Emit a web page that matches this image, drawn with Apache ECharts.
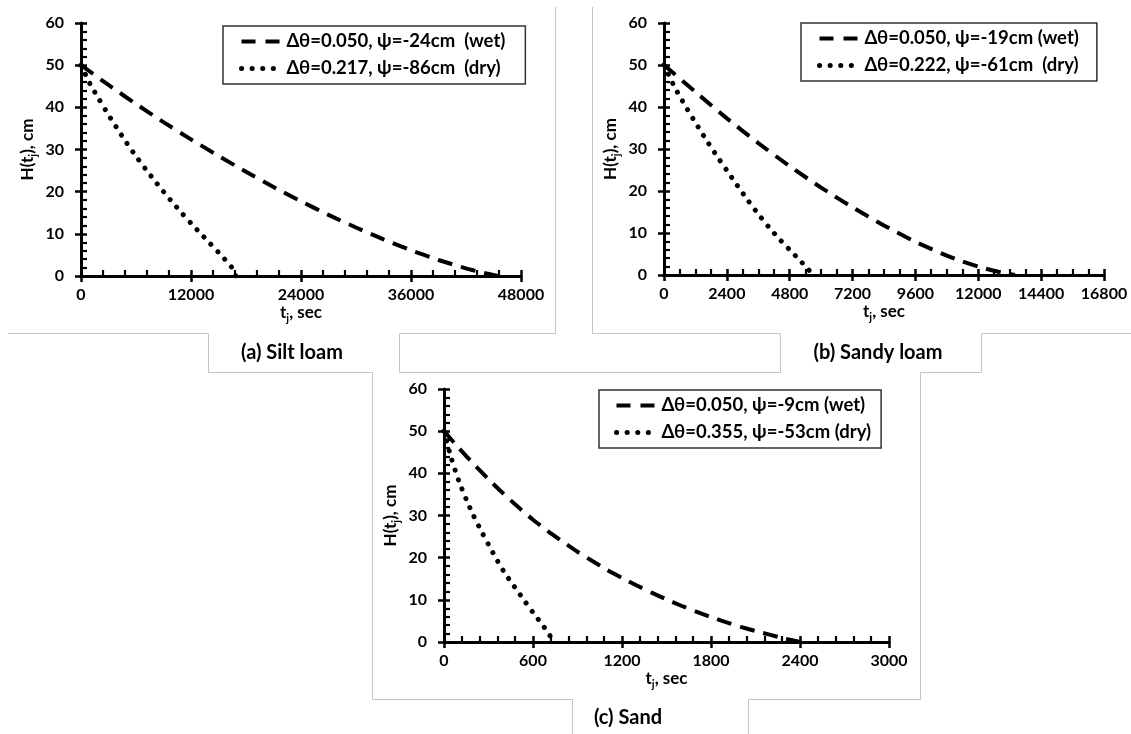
<!DOCTYPE html>
<html><head><meta charset="utf-8">
<script src="https://cdn.jsdelivr.net/npm/echarts@6/dist/echarts.min.js"></script>
<style>html,body{margin:0;padding:0;background:#fff}#c{width:1131px;height:734px}</style>
</head><body><div id="c"></div>
<script>
// ---------------- data ----------------
// (a) Silt loam
const tA_wet = [0, 3000, 6000, 9000, 12000, 15000, 18000, 21000, 24000, 27000, 30000, 33000, 36000, 39000, 42000, 44000, 45500];
const hA_wet = [50, 45.3, 40.8, 36.5, 32.4, 28.5, 24.7, 21.1, 17.7, 14.5, 11.5, 8.7, 6.1, 3.8, 1.8, 0.7, 0];
const tA_dry = [0, 1000, 2000, 3000, 4000, 5000, 6000, 7000, 8000, 9000, 10000, 11000, 12000, 13000, 14000, 15000, 16000, 16600, 16900];
const hA_dry = [50, 45.5, 41.8, 38.2, 34.8, 31.5, 28.4, 25.5, 22.7, 20.0, 17.4, 14.9, 12.5, 10.2, 7.9, 5.6, 3.2, 1.6, 0];
// (b) Sandy loam
const tB_wet = [0, 1200, 2400, 3600, 4800, 6000, 7200, 8400, 9600, 10800, 11400, 12000, 12600, 13000, 13400];
const hB_wet = [50, 43.6, 37.3, 31.4, 25.9, 20.8, 16.1, 11.8, 7.9, 4.6, 3.2, 2.0, 1.0, 0.5, 0];
const tB_dry = [0, 400, 800, 1200, 1600, 2000, 2400, 2800, 3200, 3600, 4000, 4400, 4800, 5200, 5500, 5700];
const hB_dry = [50, 44.8, 40.4, 36.3, 32.3, 28.5, 24.9, 21.3, 17.8, 14.5, 11.4, 8.6, 6.0, 3.4, 1.4, 0];
// (c) Sand
const tC_wet = [0, 100, 200, 300, 400, 500, 600, 700, 800, 900, 1000, 1100, 1200, 1300, 1400, 1500, 1600, 1700, 1800, 1900, 2000, 2100, 2200, 2300, 2400];
const hC_wet = [50, 46.0, 42.2, 38.6, 35.2, 32.0, 29.0, 26.3, 23.8, 21.4, 19.2, 17.1, 15.2, 13.4, 11.7, 10.1, 8.6, 7.2, 5.9, 4.7, 3.6, 2.6, 1.7, 0.8, 0];
const tC_dry = [0, 50, 100, 150, 200, 250, 300, 350, 400, 450, 500, 550, 600, 650, 700, 740];
const hC_dry = [50, 43.5, 38.2, 33.8, 29.9, 26.4, 23.1, 19.9, 16.9, 14.3, 11.9, 9.4, 7.0, 4.7, 2.3, 0];

const legendA = ['Δθ=0.050, ψ=-24cm  (wet)', 'Δθ=0.217, ψ=-86cm  (dry)'];
const legendB = ['Δθ=0.050, ψ=-19cm (wet)', 'Δθ=0.222, ψ=-61cm  (dry)'];
const legendC = ['Δθ=0.050, ψ=-9cm (wet)', 'Δθ=0.355, ψ=-53cm (dry)'];
const captions = ['(a) Silt loam', '(b) Sandy loam', '(c) Sand'];
const xMaxes = [48000, 16800, 3000];
const xSteps = [12000, 2400, 600];
const xMinorSplits = [5, 4, 5];
const yMax = 60, yStep = 10;

// ---------------- layout ----------------
const FONT = 'Lato';
const grids = [
  {left: 81, top: 23, width: 440, height: 253},
  {left: 664, top: 23, width: 440, height: 252},
  {left: 444, top: 389, width: 445, height: 253}
];
const legendPos = [
  {left: 223, top: 26, padding: [6, 20, 6, 16]},
  {left: 801, top: 23, padding: [6, 18, 6, 16]},
  {left: 599, top: 390, padding: [6, 10, 6, 15]}
];
const legendNames = [legendA, legendB, legendC];

const WET_LINE = {color: '#000', width: 4, type: [15, 9]};
const DRY_LINE = {color: '#000', width: 5, type: [0.1, 10], cap: 'round'};
const WET_ICON = {color: '#000', width: 4, type: [14, 10]};
const DRY_ICON = {color: '#000', width: 5, type: [0.1, 10.5], cap: 'round'};

const nameRich = {
  n: {fontSize: 17, fontWeight: 'bold', fontFamily: FONT, color: '#000', lineHeight: 22},
  s: {fontSize: 11, fontWeight: 'bold', fontFamily: FONT, color: '#000', lineHeight: 22, verticalAlign: 'bottom'}
};
const plain = v => String(v);

const xAxes = [], yAxes = [], series = [], legends = [];
for (let g = 0; g < 3; g++) {
  xAxes.push({
    type: 'value', gridIndex: g, min: 0, max: xMaxes[g], interval: xSteps[g],
    axisLine: {show: true, onZero: false, lineStyle: {color: '#000', width: 3}},
    axisTick: {show: true, inside: true, length: 6, lineStyle: {color: '#000', width: 2.5}},
    minorTick: {show: true, splitNumber: xMinorSplits[g], length: 6, lineStyle: {color: '#000', width: 2.2}},
    splitLine: {show: false},
    axisLabel: {margin: 11, fontSize: 16, fontWeight: 'bold', fontFamily: FONT, color: '#000', formatter: plain},
    name: '{n|t}{s|j}{n|, sec}', nameLocation: 'middle', nameGap: 26,
    nameTextStyle: {rich: nameRich}
  });
  xAxes.push({
    type: 'value', gridIndex: g, min: 0, max: xMaxes[g], interval: xSteps[g], position: 'bottom',
    axisLine: {show: false, onZero: false},
    axisTick: {show: true, inside: false, length: 6, lineStyle: {color: '#000', width: 2.5}},
    axisLabel: {show: false}, splitLine: {show: false}
  });
  yAxes.push({
    type: 'value', gridIndex: g, min: 0, max: yMax, interval: yStep,
    axisLine: {show: true, onZero: false, lineStyle: {color: '#000', width: 3}},
    axisTick: {show: true, inside: true, length: 6, lineStyle: {color: '#000', width: 2.5}},
    minorTick: {show: true, splitNumber: 5, length: 6, lineStyle: {color: '#000', width: 2.2}},
    splitLine: {show: false},
    axisLabel: {margin: 17, fontSize: 16, fontWeight: 'bold', fontFamily: FONT, color: '#000', formatter: plain},
    name: '{n|H(t}{s|j}{n|), cm}', nameLocation: 'middle', nameGap: 42,
    nameTextStyle: {rich: nameRich}
  });
  yAxes.push({
    type: 'value', gridIndex: g, min: 0, max: yMax, interval: yStep, position: 'left',
    axisLine: {show: false, onZero: false},
    axisTick: {show: true, inside: false, length: 6, lineStyle: {color: '#000', width: 2.5}},
    axisLabel: {show: false}, splitLine: {show: false}
  });
  legends.push({
    left: legendPos[g].left, top: legendPos[g].top, orient: 'vertical',
    data: [
      {name: legendNames[g][0], lineStyle: WET_ICON},
      {name: legendNames[g][1], lineStyle: DRY_ICON}
    ],
    itemWidth: 40, itemHeight: 16, itemGap: 8, padding: legendPos[g].padding,
    borderColor: '#333', borderWidth: 1.5, backgroundColor: '#fff', selectedMode: false,
    itemStyle: {opacity: 0},
    textStyle: {fontFamily: FONT, fontSize: 18.5, fontWeight: 'bold', color: '#000'}
  });
}

const panelData = [
  [[tA_wet, hA_wet], [tA_dry, hA_dry]],
  [[tB_wet, hB_wet], [tB_dry, hB_dry]],
  [[tC_wet, hC_wet], [tC_dry, hC_dry]]
];
for (let g = 0; g < 3; g++) {
  for (let k = 0; k < 2; k++) {
    const [ts, hs] = panelData[g][k];
    series.push({
      type: 'line', name: legendNames[g][k], xAxisIndex: g * 2, yAxisIndex: g * 2,
      data: ts.map((t, i) => [t, hs[i]]), showSymbol: false, symbol: 'none', smooth: 0.2,
      silent: true, animation: false, color: '#000',
      itemStyle: {color: '#000'},
      lineStyle: k === 0 ? WET_LINE : DRY_LINE
    });
  }
}

const frameStyle = {stroke: '#c4c4c4', lineWidth: 1, fill: null};
const capStyle = {fontFamily: FONT, fontSize: 20, fontWeight: 'bold', fill: '#000', align: 'center', verticalAlign: 'middle'};
const graphic = [
  {type: 'polyline', shape: {points: [[555.5, 7], [555.5, 333.5], [399.5, 333.5], [399.5, 372.5], [780.5, 372.5], [780.5, 333.5], [592.5, 333.5], [592.5, 7]]}, style: frameStyle, silent: true},
  {type: 'polyline', shape: {points: [[8, 333.5], [208.5, 333.5], [208.5, 372.5], [372.5, 372.5], [372.5, 699.5], [572.5, 699.5], [572.5, 734]]}, style: frameStyle, silent: true},
  {type: 'polyline', shape: {points: [[748.5, 734], [748.5, 699.5], [920.5, 699.5], [920.5, 372.5], [981.5, 372.5], [981.5, 333.5], [1131, 333.5]]}, style: frameStyle, silent: true},
  {type: 'text', x: 292, y: 353, style: Object.assign({text: captions[0]}, capStyle), silent: true},
  {type: 'text', x: 878, y: 353, style: Object.assign({text: captions[1]}, capStyle), silent: true},
  {type: 'text', x: 628, y: 718, style: Object.assign({text: captions[2]}, capStyle), silent: true}
];

const chart = echarts.init(document.getElementById('c'), null, {renderer: 'canvas'});
chart.setOption({
  backgroundColor: '#fff',
  animation: false,
  grid: grids,
  xAxis: xAxes,
  yAxis: yAxes,
  legend: legends,
  series: series,
  graphic: graphic
});
</script>
</body></html>
